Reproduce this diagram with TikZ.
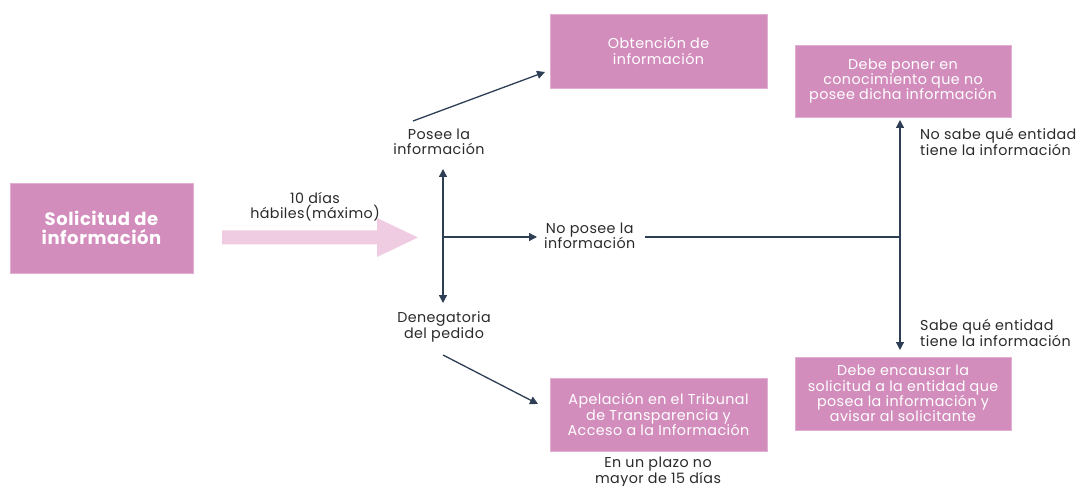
\documentclass[tikz,border=0pt]{standalone}
\usepackage{fontspec}
\setmainfont{Poppins}[LetterSpace=3]
\usetikzlibrary{arrows.meta}
\definecolor{boxpink}{HTML}{D38DBD}
\definecolor{lightpink}{HTML}{F0CCE2}
\definecolor{navy}{HTML}{2D3E55}
\definecolor{txt}{HTML}{2A2A2A}
\tikzset{
  pbox/.style={fill=boxpink, draw=boxpink!70!white, line width=0.6pt, text=white, align=center, font=\fontsize{14.3}{15.3}\selectfont, inner sep=0pt},
  lbl/.style={text=txt, align=center, font=\fontsize{14.3}{15.3}\selectfont, inner sep=0pt},
  conn/.style={navy, line width=1.3pt, -{Triangle[width=8pt,length=8pt]}},
  plain/.style={navy, line width=1.3pt}
}
\begin{document}
\begin{tikzpicture}[x=1pt,y=-1pt]
\useasboundingbox (0,0) rectangle (1086,486);
% boxes
\node[pbox, minimum width=183pt, minimum height=90pt, font=\bfseries\fontsize{18}{19.5}\selectfont] (sol) at (101.5,228) {Solicitud de\\información};
\node[pbox, minimum width=217pt, minimum height=74pt] (obt) at (658.5,51) {Obtención de\\información};
\node[pbox, minimum width=216pt, minimum height=72pt] (debe) at (903,81) {Debe poner en\\conocimiento que no\\posee dicha información};
\node[pbox, minimum width=217pt, minimum height=73pt] (apel) at (658.5,414.5) {Apelación en el Tribunal\\de Transparencia y\\Acceso a la Información};
\node[pbox, minimum width=216pt, minimum height=73pt] (enc) at (903,393.5) {Debe encausar la\\solicitud a la entidad que\\posea la información y\\avisar al solicitante};
% big light arrow
\fill[lightpink] (222,230.5) -- (377,230.5) -- (377,218) -- (418,237.5) -- (377,257) -- (377,244.5) -- (222,244.5) -- cycle;
\coordinate (bigtip) at (418,237.5);
% labels
\node[lbl] (dias) at (315,207) {10 días\\hábiles(máximo)};
\node[lbl] (posee) at (439,142) {Posee la\\información};
\node[lbl] (den) at (444,327) {Denegatoria\\del pedido};
\node[lbl, anchor=west] (nopos) at (544,236) {No posee la\\información};
\node[lbl, anchor=west, align=left] (nosabe) at (920,142) {No sabe qué entidad\\tiene la información};
\node[lbl, anchor=west, align=left] (sabe) at (920,333) {Sabe qué entidad\\tiene la información};
\node[lbl] (plazo) at (658,472) {En un plazo no\\mayor de 15 días};
% connectors
\coordinate (c) at (443,237);
\coordinate (cup) at (443,169);
\coordinate (cdn) at (443,303);
\coordinate (cright) at (537,237);
\draw[conn] (c) -- (cup);
\draw[conn] (c) -- (cdn);
\draw[conn] (c) -- (cright);
\coordinate (p1) at (413,121);
\coordinate (p2) at (545,72);
\draw[conn] (p1) -- (p2);
\coordinate (d1) at (443,355);
\coordinate (d2) at (538,404);
\draw[conn] (d1) -- (d2);
\coordinate (lstart) at (645,237);
\coordinate (j) at (900,237);
\draw[plain] (lstart) -- (j);
\coordinate (jup) at (900,120);
\coordinate (jdn) at (900,350);
\draw[conn] (j) -- (jup);
\draw[conn] (j) -- (jdn);
\end{tikzpicture}
\end{document}
